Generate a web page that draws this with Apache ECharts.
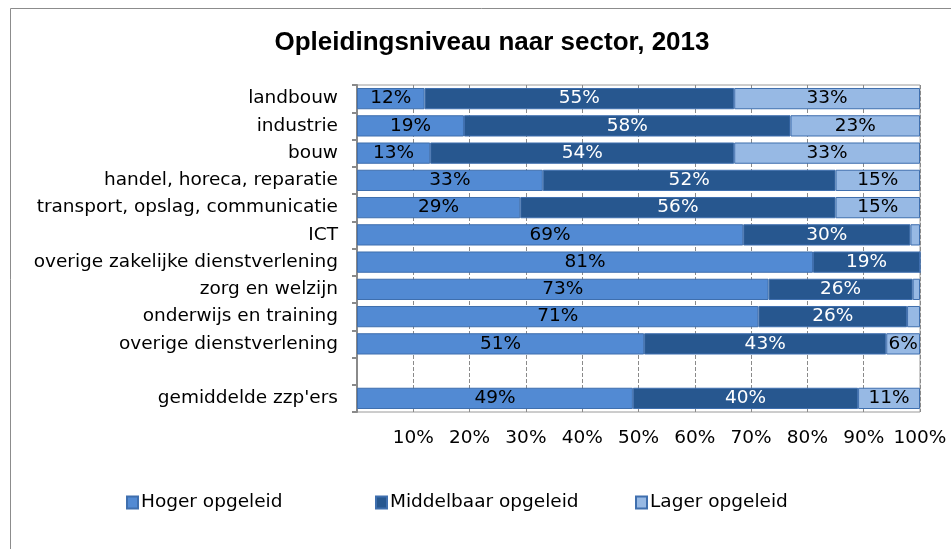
<!DOCTYPE html>
<html>
<head>
<meta charset="utf-8">
<script src="https://cdn.jsdelivr.net/npm/echarts@6/dist/echarts.min.js"></script>
<style>
  html, body { margin: 0; padding: 0; background: #fff; }
  #chart { width: 951px; height: 549px; }
</style>
</head>
<body>
<div id="chart"></div>
<script>
// categorieen (lege regel tussen sectoren en gemiddelde)
const sectors = [
  "landbouw", "industrie", "bouw", "handel, horeca, reparatie",
  "transport, opslag, communicatie", "ICT", "overige zakelijke dienstverlening",
  "zorg en welzijn", "onderwijs en training", "overige dienstverlening",
  "", "gemiddelde zzp'ers"
];
const hoger      = [12, 19, 13, 33, 29, 68.6, 81, 73.1, 71.3, 51, null, 49];
const middelbaar = [55, 58, 54, 52, 56, 29.7, 19, 25.6, 26.4, 43, null, 40];
const lager      = [33, 23, 33, 15, 15, 1.7, 0, 1.3, 2.3, 6, null, 11];
const xTicks = [10, 20, 30, 40, 50, 60, 70, 80, 90, 100];

const font = "DejaVu Sans";
const fs = 18.5;
const colors = ["#528ad3", "#27578f", "#97b9e4"];

function pctLabel(color) {
  return {
    show: true,
    position: "inside",
    color: color,
    fontFamily: font,
    fontSize: fs,
    formatter: (p) => (p.value >= 5 ? Math.round(p.value) + "%" : "")
  };
}

function barSeries(name, data, i, labelColor) {
  return {
    name: name,
    type: "bar",
    stack: "total",
    data: data,
    barCategoryGap: "22%",
    itemStyle: { color: colors[i], borderColor: "#3f6fae", borderWidth: 1 },
    label: pctLabel(labelColor)
  };
}

const chart = echarts.init(document.getElementById("chart"));
chart.setOption({
  animation: false,
  title: {
    text: "Opleidingsniveau naar sector, 2013",
    left: 487,
    top: 25,
    textAlign: "center",
    textStyle: { fontFamily: "Liberation Sans", fontWeight: "bold", fontSize: 26, color: "#000" }
  },
  graphic: [{
    type: "rect",
    shape: { x: 10.5, y: 8.5, width: 1000, height: 1000 },
    style: { fill: "none", stroke: "#8c8c8c", lineWidth: 1 },
    silent: true
  }],
  legend: [
    { data: ["Hoger opgeleid"], left: 121, top: 488 },
    { data: ["Middelbaar opgeleid"], left: 370, top: 488 },
    { data: ["Lager opgeleid"], left: 630, top: 488 }
  ].map((l) => Object.assign(l, {
    icon: "rect",
    itemWidth: 11,
    itemHeight: 12,
    itemGap: 3,
    textStyle: { fontFamily: font, fontSize: fs, color: "#000", padding: [0, 0, 0, -2] }
  })),
  grid: {
    left: 357, right: 31, top: 85, bottom: 137,
    show: true, borderColor: "#9a9a9a", borderWidth: 1
  },
  xAxis: {
    type: "value",
    min: 0,
    max: 100,
    interval: 10,
    axisLine: { show: false },
    axisTick: { show: false },
    splitLine: { show: true, lineStyle: { type: "dashed", color: "#8a8a8a" } },
    axisLabel: {
      margin: 17,
      fontFamily: font,
      fontSize: fs,
      color: "#000",
      formatter: (v) => (xTicks.indexOf(v) >= 0 ? v + "%" : "")
    }
  },
  yAxis: {
    type: "category",
    inverse: true,
    data: sectors,
    axisLine: { show: true, lineStyle: { color: "#8a8a8a", width: 2 } },
    axisTick: { show: true, length: 5, lineStyle: { color: "#8a8a8a", width: 2 } },
    axisLabel: { fontFamily: font, fontSize: fs, color: "#000", margin: 19 }
  },
  series: [
    barSeries("Hoger opgeleid", hoger, 0, "#000"),
    barSeries("Middelbaar opgeleid", middelbaar, 1, "#fff"),
    barSeries("Lager opgeleid", lager, 2, "#000")
  ]
});
</script>
</body>
</html>
